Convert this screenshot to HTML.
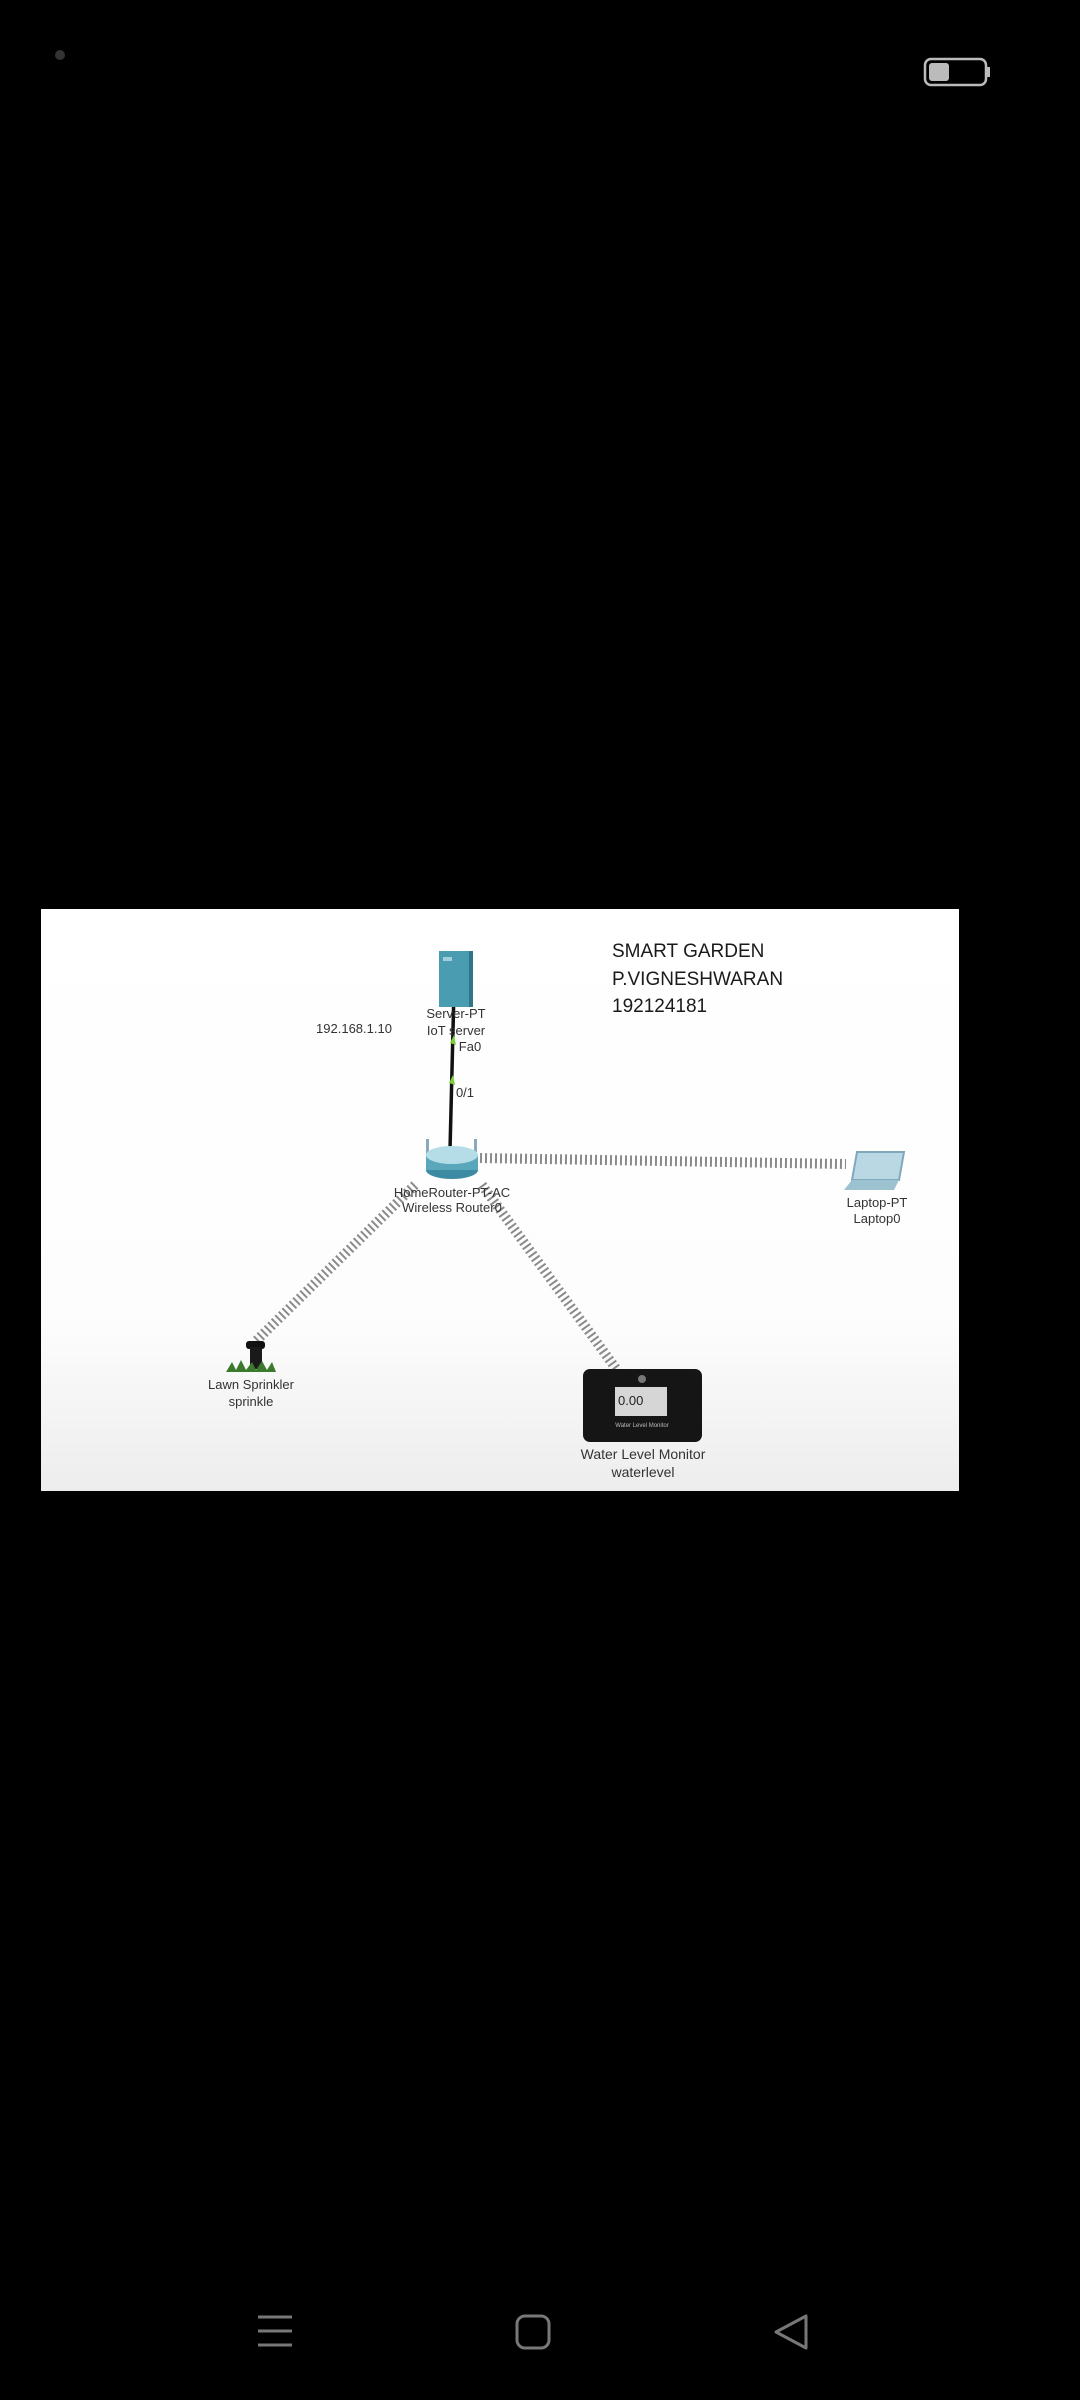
<!DOCTYPE html>
<html><head><meta charset="utf-8"><style>
html,body{margin:0;padding:0;background:#000;width:1080px;height:2400px;overflow:hidden;font-family:"Liberation Sans",sans-serif}
</style></head><body>
<svg width="1080" height="2400" xmlns="http://www.w3.org/2000/svg" style="position:absolute;left:0;top:0">
<defs>
<linearGradient id="bg" x1="0" y1="0" x2="0" y2="1">
<stop offset="0" stop-color="#ffffff"/><stop offset="0.7" stop-color="#fdfdfd"/><stop offset="1" stop-color="#ededed"/>
</linearGradient>
</defs>
<rect x="0" y="0" width="1080" height="2400" fill="#000"/>
<circle cx="60" cy="55" r="5" fill="#333"/>
<rect x="925" y="59" width="61" height="26" rx="6" fill="none" stroke="#bbb" stroke-width="2.5"/>
<rect x="929" y="63" width="20" height="18" rx="3" fill="#bbb"/>
<rect x="987" y="67" width="3" height="10" fill="#bbb"/>
<rect x="41" y="909" width="918" height="582" fill="url(#bg)"/>
<!-- wireless lines -->
<g stroke="#8a8a8a" stroke-width="10" stroke-dasharray="2,3" fill="none">
<line x1="480" y1="1158" x2="846" y2="1164"/>
<line x1="415" y1="1185" x2="255" y2="1342"/>
<line x1="482" y1="1185" x2="617" y2="1370"/>
</g>
<!-- wired -->
<line x1="454" y1="990" x2="450" y2="1150" stroke="#111" stroke-width="3.5"/>
<polygon points="450,1043 454,1035 456,1045" fill="#7ccd3a"/>
<polygon points="449,1083 453,1075 455,1085" fill="#7ccd3a"/>
<!-- server -->
<rect x="439" y="951" width="34" height="56" fill="#4a9cb0"/>
<rect x="469" y="951" width="4" height="56" fill="#2f7585"/>
<rect x="443" y="957" width="9" height="4" fill="#9fd0dc"/>
<!-- router -->
<rect x="426" y="1139" width="3" height="16" fill="#8ab"/>
<rect x="474" y="1139" width="3" height="16" fill="#8ab"/>
<ellipse cx="452" cy="1170" rx="26" ry="9" fill="#3d8ba2"/>
<rect x="426" y="1155" width="52" height="15" fill="#5aa6ba"/>
<ellipse cx="452" cy="1155" rx="26" ry="9" fill="#b4dde8"/>
<!-- laptop -->
<polygon points="857,1152 904,1152 899,1180 852,1180" fill="#b9d8e3" stroke="#7fa9ba" stroke-width="2"/>
<polygon points="852,1180 899,1180 894,1190 844,1190" fill="#9cc2d0"/>
<!-- sprinkler -->
<rect x="246" y="1341" width="19" height="8" rx="3" fill="#111"/>
<rect x="250" y="1347" width="12" height="22" fill="#1a1a1a"/>
<path d="M226 1372 L232 1362 L236 1370 L241 1360 L246 1370 L252 1362 L256 1370 L262 1361 L267 1370 L272 1362 L276 1372 Z" fill="#3b7a2c"/>
<!-- water monitor -->
<rect x="583" y="1369" width="119" height="73" rx="7" fill="#151515"/>
<circle cx="642" cy="1379" r="4" fill="#777"/>
<rect x="615" y="1387" width="52" height="29" fill="#d6d6d6"/>
<text x="618" y="1405" font-size="13" fill="#222">0.00</text>
<text x="642" y="1427" font-size="6" fill="#bbb" text-anchor="middle">Water Level Monitor</text>
<!-- labels -->
<g font-size="13" fill="#333" text-anchor="middle">
<text x="456" y="1018">Server-PT</text>
<text x="456" y="1035">IoT server</text>
<text x="470" y="1051">Fa0</text>
<text x="465" y="1097">0/1</text>
<text x="452" y="1197">HomeRouter-PT-AC</text>
<text x="452" y="1212">Wireless Router0</text>
<text x="877" y="1207">Laptop-PT</text>
<text x="877" y="1223">Laptop0</text>
<text x="251" y="1389">Lawn Sprinkler</text>
<text x="251" y="1406">sprinkle</text>
<text x="643" y="1459" font-size="14">Water Level Monitor</text>
<text x="643" y="1477" font-size="14">waterlevel</text>
<text x="354" y="1033" font-size="13">192.168.1.10</text>
</g>
<g font-size="19" fill="#1a1a1a">
<text x="612" y="957">SMART GARDEN</text>
<text x="612" y="985">P.VIGNESHWARAN</text>
<text x="612" y="1012">192124181</text>
</g>
<!-- nav -->
<g stroke="#777" stroke-width="3" fill="none">
<line x1="258" y1="2317" x2="292" y2="2317"/><line x1="258" y1="2331" x2="292" y2="2331"/><line x1="258" y1="2345" x2="292" y2="2345"/>
<rect x="517" y="2316" width="32" height="32" rx="8"/>
<polygon points="806,2316 806,2348 776,2332" stroke-linejoin="round"/>
</g>
</svg>
</body></html>
